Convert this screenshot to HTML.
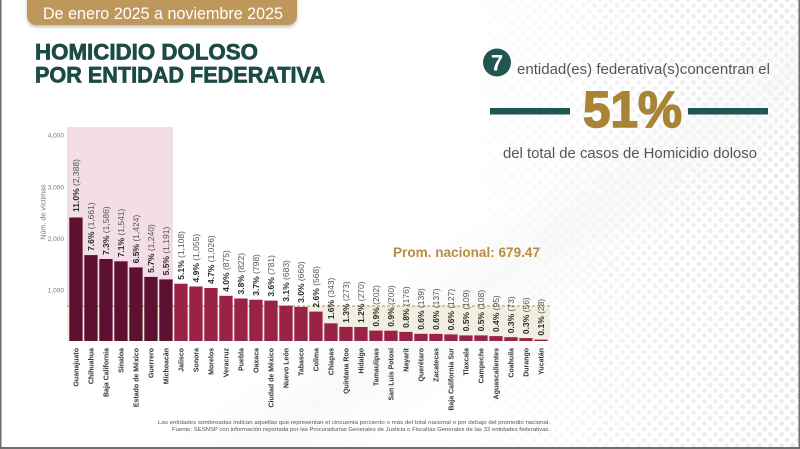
<!DOCTYPE html>
<html>
<head>
<meta charset="utf-8">
<style>
  html,body{margin:0;padding:0;}
  body{width:800px;height:449px;overflow:hidden;background:#fff;position:relative;font-family:"Liberation Sans",sans-serif;}
  .dots{position:absolute;left:380px;top:0;width:420px;height:449px;
    background-image:radial-gradient(circle,#e6e6e6 2.2px,transparent 2.7px),radial-gradient(circle,#e6e6e6 2.2px,transparent 2.7px);
    background-size:11px 11px,11px 11px;background-position:0 0,5.5px 5.5px;}
  .fade{position:absolute;left:380px;top:0;width:420px;height:449px;
    background:linear-gradient(to right,#fff 0%,rgba(255,255,255,0.9) 25%,rgba(255,255,255,0.45) 65%,rgba(255,255,255,0.2) 100%);}
  .swoosh{position:absolute;left:0;top:0;width:800px;height:449px;
    background:linear-gradient(145deg,rgba(255,255,255,0) 55%,rgba(245,245,245,0.6) 62%,rgba(255,255,255,0) 70%);}
  svg{position:absolute;left:0;top:0;}
</style>
</head>
<body>
<div class="dots"></div>
<div class="fade"></div>
<div class="swoosh"></div>
<svg width="800" height="449" viewBox="0 0 800 449" xmlns="http://www.w3.org/2000/svg" font-family="Liberation Sans, sans-serif">
  <defs>
    <filter id="sh" x="-10%" y="-30%" width="120%" height="180%">
      <feDropShadow dx="0" dy="2" stdDeviation="1.5" flood-color="#000" flood-opacity="0.25"/>
    </filter>
  </defs>

  <!-- header pill -->
  <rect x="27" y="-12" width="270" height="37" rx="9" fill="#c0975a" filter="url(#sh)"/>
  <text x="43" y="19" font-size="17" fill="#fff" textLength="240" lengthAdjust="spacingAndGlyphs">De enero 2025 a noviembre 2025</text>

  <!-- title -->
  <text x="35" y="59.5" font-size="22" font-weight="bold" fill="#1d4a45" stroke="#1d4a45" stroke-width="0.7" textLength="223" lengthAdjust="spacingAndGlyphs">HOMICIDIO DOLOSO</text>
  <text x="35" y="82.7" font-size="22" font-weight="bold" fill="#1d4a45" stroke="#1d4a45" stroke-width="0.7" textLength="290" lengthAdjust="spacingAndGlyphs">POR ENTIDAD FEDERATIVA</text>

  <!-- right summary -->
  <circle cx="497" cy="62.5" r="14" fill="#1f5651"/>
  <text x="497" y="70.5" font-size="22" font-weight="bold" fill="#fff" text-anchor="middle">7</text>
  <text x="517" y="74" font-size="15" fill="#555" textLength="253" lengthAdjust="spacingAndGlyphs">entidad(es) federativa(s)concentran el</text>
  <rect x="490" y="108" width="80" height="6.5" fill="#1e5651"/>
  <rect x="688" y="108" width="80" height="6.5" fill="#1e5651"/>
  <text x="583" y="127" font-size="51" font-weight="bold" fill="#a98437" stroke="#a98437" stroke-width="1.6" textLength="99" lengthAdjust="spacingAndGlyphs">51%</text>
  <text x="503" y="158" font-size="15" fill="#555" textLength="254" lengthAdjust="spacingAndGlyphs">del total de casos de Homicidio doloso</text>

  <!-- shaded regions -->
  <rect x="67" y="127" width="106" height="179" fill="#f3dee7"/>
  <rect x="67" y="306" width="483" height="35" fill="#f1eee2"/>
  <line x1="67" y1="306" x2="550" y2="306" stroke="#c9a25a" stroke-width="1.2" stroke-dasharray="3 2"/>

  <!-- y axis -->
  <g font-size="6.5" fill="#777" text-anchor="end">
    <text x="64" y="137.3">4,000</text>
    <text x="64" y="189.3">3,000</text>
    <text x="64" y="241">2,000</text>
    <text x="64" y="292.3">1,000</text>
  </g>
  <text transform="translate(45.5,212) rotate(-90)" font-size="7.2" fill="#777" text-anchor="middle">Núm. de víctimas</text>

  <!-- bars -->
  <g fill="#5e1030">
    <rect x="69.3" y="217.5" width="13.3" height="123.5"/>
    <rect x="84.3" y="255.1" width="13.3" height="85.9"/>
    <rect x="99.3" y="259.0" width="13.3" height="82.0"/>
    <rect x="114.3" y="261.3" width="13.3" height="79.7"/>
    <rect x="129.3" y="267.4" width="13.3" height="73.6"/>
    <rect x="144.3" y="276.9" width="13.3" height="64.1"/>
    <rect x="159.3" y="279.4" width="13.3" height="61.6"/>
  </g>
  <g fill="#9b2247">
    <rect x="174.3" y="283.7" width="13.3" height="57.3"/>
    <rect x="189.3" y="286.5" width="13.3" height="54.5"/>
    <rect x="204.3" y="288.0" width="13.3" height="53.0"/>
    <rect x="219.3" y="295.8" width="13.3" height="45.2"/>
    <rect x="234.3" y="298.5" width="13.3" height="42.5"/>
    <rect x="249.3" y="299.7" width="13.3" height="41.3"/>
    <rect x="264.3" y="300.6" width="13.3" height="40.4"/>
    <rect x="279.3" y="305.7" width="13.3" height="35.3"/>
    <rect x="294.3" y="306.9" width="13.3" height="34.1"/>
    <rect x="309.3" y="311.6" width="13.3" height="29.4"/>
    <rect x="324.3" y="323.3" width="13.3" height="17.7"/>
    <rect x="339.3" y="326.9" width="13.3" height="14.1"/>
    <rect x="354.3" y="327.0" width="13.3" height="14.0"/>
    <rect x="369.3" y="330.6" width="13.3" height="10.4"/>
    <rect x="384.3" y="330.7" width="13.3" height="10.3"/>
    <rect x="399.3" y="331.9" width="13.3" height="9.1"/>
    <rect x="414.3" y="333.8" width="13.3" height="7.2"/>
    <rect x="429.3" y="333.9" width="13.3" height="7.1"/>
    <rect x="444.3" y="334.4" width="13.3" height="6.6"/>
    <rect x="459.3" y="335.4" width="13.3" height="5.6"/>
    <rect x="474.3" y="335.4" width="13.3" height="5.6"/>
    <rect x="489.3" y="336.1" width="13.3" height="4.9"/>
    <rect x="504.3" y="337.2" width="13.3" height="3.8"/>
    <rect x="519.3" y="338.1" width="13.3" height="2.9"/>
    <rect x="534.3" y="339.6" width="13.3" height="1.4"/>
  </g>

  <!-- value labels -->
  <g font-size="8.5" fill="#555">
    <text transform="translate(79,212) rotate(-90)"><tspan font-weight="bold" fill="#2a2a2a">11.0%</tspan> (2,388)</text>
    <text transform="translate(94,251) rotate(-90)"><tspan font-weight="bold" fill="#2a2a2a">7.6%</tspan> (1,661)</text>
    <text transform="translate(109,255) rotate(-90)"><tspan font-weight="bold" fill="#2a2a2a">7.3%</tspan> (1,586)</text>
    <text transform="translate(124,257.3) rotate(-90)"><tspan font-weight="bold" fill="#2a2a2a">7.1%</tspan> (1,541)</text>
    <text transform="translate(139,263.4) rotate(-90)"><tspan font-weight="bold" fill="#2a2a2a">6.5%</tspan> (1,424)</text>
    <text transform="translate(154,272.9) rotate(-90)"><tspan font-weight="bold" fill="#2a2a2a">5.7%</tspan> (1,240)</text>
    <text transform="translate(169,275.4) rotate(-90)"><tspan font-weight="bold" fill="#2a2a2a">5.5%</tspan> (1,191)</text>
    <text transform="translate(184,279.7) rotate(-90)"><tspan font-weight="bold" fill="#2a2a2a">5.1%</tspan> (1,108)</text>
    <text transform="translate(199,282.5) rotate(-90)"><tspan font-weight="bold" fill="#2a2a2a">4.9%</tspan> (1,055)</text>
    <text transform="translate(214,284) rotate(-90)"><tspan font-weight="bold" fill="#2a2a2a">4.7%</tspan> (1,026)</text>
    <text transform="translate(229,291.8) rotate(-90)"><tspan font-weight="bold" fill="#2a2a2a">4.0%</tspan> (875)</text>
    <text transform="translate(244,294.5) rotate(-90)"><tspan font-weight="bold" fill="#2a2a2a">3.8%</tspan> (822)</text>
    <text transform="translate(259,295.7) rotate(-90)"><tspan font-weight="bold" fill="#2a2a2a">3.7%</tspan> (798)</text>
    <text transform="translate(274,296.6) rotate(-90)"><tspan font-weight="bold" fill="#2a2a2a">3.6%</tspan> (781)</text>
    <text transform="translate(289,301.7) rotate(-90)"><tspan font-weight="bold" fill="#2a2a2a">3.1%</tspan> (683)</text>
    <text transform="translate(304,302.9) rotate(-90)"><tspan font-weight="bold" fill="#2a2a2a">3.0%</tspan> (660)</text>
    <text transform="translate(319,307.6) rotate(-90)"><tspan font-weight="bold" fill="#2a2a2a">2.6%</tspan> (568)</text>
    <text transform="translate(334,319.3) rotate(-90)"><tspan font-weight="bold" fill="#2a2a2a">1.6%</tspan> (343)</text>
    <text transform="translate(349,322.9) rotate(-90)"><tspan font-weight="bold" fill="#2a2a2a">1.3%</tspan> (273)</text>
    <text transform="translate(364,323) rotate(-90)"><tspan font-weight="bold" fill="#2a2a2a">1.2%</tspan> (270)</text>
    <text transform="translate(379,326.6) rotate(-90)"><tspan font-weight="bold" fill="#2a2a2a">0.9%</tspan> (202)</text>
    <text transform="translate(394,326.7) rotate(-90)"><tspan font-weight="bold" fill="#2a2a2a">0.9%</tspan> (200)</text>
    <text transform="translate(409,327.9) rotate(-90)"><tspan font-weight="bold" fill="#2a2a2a">0.8%</tspan> (176)</text>
    <text transform="translate(424,329.8) rotate(-90)"><tspan font-weight="bold" fill="#2a2a2a">0.6%</tspan> (139)</text>
    <text transform="translate(439,329.9) rotate(-90)"><tspan font-weight="bold" fill="#2a2a2a">0.6%</tspan> (137)</text>
    <text transform="translate(454,330.4) rotate(-90)"><tspan font-weight="bold" fill="#2a2a2a">0.6%</tspan> (127)</text>
    <text transform="translate(469,331.4) rotate(-90)"><tspan font-weight="bold" fill="#2a2a2a">0.5%</tspan> (109)</text>
    <text transform="translate(484,331.4) rotate(-90)"><tspan font-weight="bold" fill="#2a2a2a">0.5%</tspan> (108)</text>
    <text transform="translate(499,332.1) rotate(-90)"><tspan font-weight="bold" fill="#2a2a2a">0.4%</tspan> (95)</text>
    <text transform="translate(514,333.2) rotate(-90)"><tspan font-weight="bold" fill="#2a2a2a">0.3%</tspan> (73)</text>
    <text transform="translate(529,334.1) rotate(-90)"><tspan font-weight="bold" fill="#2a2a2a">0.3%</tspan> (56)</text>
    <text transform="translate(544,335.6) rotate(-90)"><tspan font-weight="bold" fill="#2a2a2a">0.1%</tspan> (28)</text>
  </g>

  <text x="393" y="257" font-size="13.5" font-weight="bold" fill="#b88c3e" textLength="147" lengthAdjust="spacingAndGlyphs">Prom. nacional: 679.47</text>

  <!-- x labels -->
  <g font-size="7" font-weight="bold" fill="#333" text-anchor="end">
    <text transform="translate(78.5,348) rotate(-90)">Guanajuato</text>
    <text transform="translate(93.5,348) rotate(-90)">Chihuahua</text>
    <text transform="translate(108.5,348) rotate(-90)">Baja California</text>
    <text transform="translate(123.5,348) rotate(-90)">Sinaloa</text>
    <text transform="translate(138.5,348) rotate(-90)">Estado de México</text>
    <text transform="translate(153.5,348) rotate(-90)">Guerrero</text>
    <text transform="translate(168.5,348) rotate(-90)">Michoacán</text>
    <text transform="translate(183.5,348) rotate(-90)">Jalisco</text>
    <text transform="translate(198.5,348) rotate(-90)">Sonora</text>
    <text transform="translate(213.5,348) rotate(-90)">Morelos</text>
    <text transform="translate(228.5,348) rotate(-90)">Veracruz</text>
    <text transform="translate(243.5,348) rotate(-90)">Puebla</text>
    <text transform="translate(258.5,348) rotate(-90)">Oaxaca</text>
    <text transform="translate(273.5,348) rotate(-90)">Ciudad de México</text>
    <text transform="translate(288.5,348) rotate(-90)">Nuevo León</text>
    <text transform="translate(303.5,348) rotate(-90)">Tabasco</text>
    <text transform="translate(318.5,348) rotate(-90)">Colima</text>
    <text transform="translate(333.5,348) rotate(-90)">Chiapas</text>
    <text transform="translate(348.5,348) rotate(-90)">Quintana Roo</text>
    <text transform="translate(363.5,348) rotate(-90)">Hidalgo</text>
    <text transform="translate(378.5,348) rotate(-90)">Tamaulipas</text>
    <text transform="translate(393.5,348) rotate(-90)">San Luis Potosí</text>
    <text transform="translate(408.5,348) rotate(-90)">Nayarit</text>
    <text transform="translate(423.5,348) rotate(-90)">Querétaro</text>
    <text transform="translate(438.5,348) rotate(-90)">Zacatecas</text>
    <text transform="translate(453.5,348) rotate(-90)">Baja California Sur</text>
    <text transform="translate(468.5,348) rotate(-90)">Tlaxcala</text>
    <text transform="translate(483.5,348) rotate(-90)">Campeche</text>
    <text transform="translate(498.5,348) rotate(-90)">Aguascalientes</text>
    <text transform="translate(513.5,348) rotate(-90)">Coahuila</text>
    <text transform="translate(528.5,348) rotate(-90)">Durango</text>
    <text transform="translate(543.5,348) rotate(-90)">Yucatán</text>
  </g>

  <!-- footer -->
  <text x="550" y="424" font-size="5.6" fill="#555" text-anchor="end" textLength="392" lengthAdjust="spacingAndGlyphs">Las entidades sombreadas indican aquellas que representan el cincuenta porciento o más del total nacional o por debajo del promedio nacional.</text>
  <text x="550" y="431" font-size="5.6" fill="#555" text-anchor="end" textLength="378" lengthAdjust="spacingAndGlyphs">Fuente: SESNSP con información reportada por las Procuradurías Generales de Justicia o Fiscalías Generales de las 32 entidades federativas.</text>

  <!-- frame -->
  <rect x="0" y="0" width="1.5" height="449" fill="#6e6e6e"/>
  <rect x="798.5" y="0" width="1.5" height="449" fill="#6e6e6e"/>
  <rect x="0" y="447" width="800" height="2" fill="#6e6e6e"/>
</svg>
</body>
</html>
